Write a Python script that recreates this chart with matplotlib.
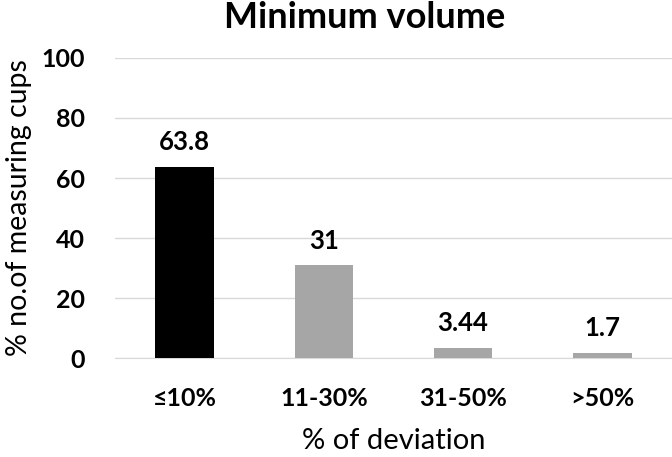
import matplotlib.pyplot as plt

categories = ["≤10%", "11-30%", "31-50%", ">50%"]
values = [63.8, 31, 3.44, 1.7]
labels = ["63.8", "31", "3.44", "1.7"]
colors = ["#000000", "#a6a6a6", "#a6a6a6", "#a6a6a6"]

plt.rcParams['font.family'] = ['Lato', 'DejaVu Sans']

fig = plt.figure(figsize=(6.72, 4.57), dpi=100)
ax = fig.add_axes([0.171, 0.2166, 0.829, 0.6565])

x = range(len(categories))
bars = ax.bar(x, values, width=0.42, color=colors, zorder=3)

for b, lab in zip(bars, labels):
    ax.annotate(lab, (b.get_x() + b.get_width() / 2, b.get_height()),
                xytext=(0, 9), textcoords="offset points",
                ha="center", va="bottom", fontsize=18.5, fontweight="bold")

ax.set_ylim(0, 100)
ax.set_xlim(-0.5, 3.5)
ax.set_yticks(range(0, 101, 20))
ax.set_xticks(list(x))
ax.set_xticklabels(categories)
ax.tick_params(length=0, labelsize=18)
ax.tick_params(axis="x", pad=21)
ax.tick_params(axis="y", pad=21.5)
for t in ax.get_xticklabels() + ax.get_yticklabels():
    t.set_fontweight("bold")

ax.grid(axis="y", color="#d9d9d9", lw=1, zorder=0)
for s in ["top", "right", "left"]:
    ax.spines[s].set_visible(False)
ax.spines["bottom"].set_color("#d9d9d9")

ax.set_xlabel("% of deviation", fontsize=21, labelpad=13)
ax.set_ylabel("% no.of measuring cups", fontsize=20.5, labelpad=7)
fig.text(0.542, 0.998, "Minimum volume", ha="center", va="top",
         fontsize=26, fontweight="bold")

fig.savefig("out.png", dpi=100)
